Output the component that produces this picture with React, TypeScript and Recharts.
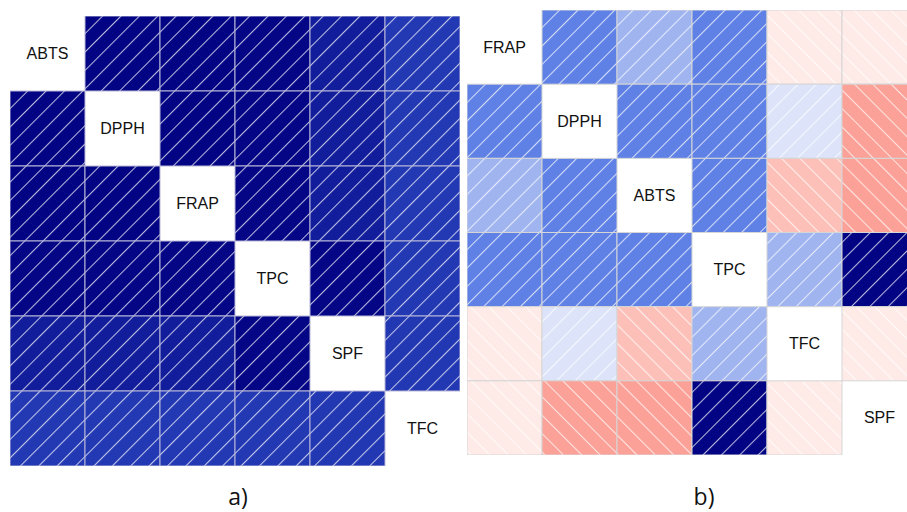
import React from "react";
import { ScatterChart, Scatter, XAxis, YAxis } from "recharts";

// panel a) variable order and correlations
const labelsA = ["ABTS", "DPPH", "FRAP", "TPC", "SPF", "TFC"];
const corrA = [
  [1, 0.98, 0.98, 0.97, 0.86, 0.73],
  [0.98, 1, 0.98, 0.97, 0.86, 0.73],
  [0.98, 0.98, 1, 0.97, 0.86, 0.73],
  [0.97, 0.97, 0.97, 1, 0.97, 0.73],
  [0.86, 0.86, 0.86, 0.97, 1, 0.74],
  [0.73, 0.73, 0.73, 0.73, 0.74, 1],
];

// panel b)
const labelsB = ["FRAP", "DPPH", "ABTS", "TPC", "TFC", "SPF"];
const corrB = [
  [1, 0.42, 0.25, 0.42, -0.08, -0.08],
  [0.42, 1, 0.42, 0.42, 0.09, -0.37],
  [0.25, 0.42, 1, 0.42, -0.25, -0.37],
  [0.42, 0.42, 0.42, 1, 0.25, 0.98],
  [-0.08, 0.09, -0.25, 0.25, 1, -0.08],
  [-0.08, -0.37, -0.37, 0.98, -0.08, 1],
];

const panelTags = ["a)", "b)"];

// red - salmon - white - royalblue - navy, like corrgram's default
const stops: [number, number[]][] = [
  [-1, [255, 0, 0]],
  [-0.5, [250, 128, 114]],
  [0, [255, 255, 255]],
  [0.5, [65, 105, 225]],
  [1, [0, 0, 128]],
];

function corrColor(r: number) {
  for (let k = 0; k < stops.length - 1; k++) {
    const [a, ca] = stops[k];
    const [b, cb] = stops[k + 1];
    if (r >= a && r <= b) {
      const t = (r - a) / (b - a);
      const c = ca.map((v, i) => Math.round(v + (cb[i] - v) * t));
      return `rgb(${c[0]},${c[1]},${c[2]})`;
    }
  }
  return "#fff";
}

type Cell = { x: number; y: number; r: number; label: string };

function Corrgram({ id, labels, matrix, width, height, grid }: { id: string; labels: string[]; matrix: number[][]; width: number; height: number; grid: string }) {
  const n = labels.length;
  const cells: Cell[] = [];
  matrix.forEach((row, i) =>
    row.forEach((r, j) => cells.push({ x: j + 0.5, y: i + 0.5, r, label: i === j ? labels[i] : "" }))
  );
  const cw = width / n;
  const ch = height / n;

  const shape = (p: any) => {
    const { cx, cy, payload } = p;
    if (payload.label) {
      return (
        <text x={cx} y={cy} textAnchor="middle" dominantBaseline="central" fontSize={16} fontFamily="'Liberation Sans', Arial, sans-serif" fill="#111">
          {payload.label}
        </text>
      );
    }
    const x = cx - cw / 2;
    const y = cy - ch / 2;
    return (
      <g>
        <rect x={x} y={y} width={cw} height={ch} fill={corrColor(payload.r)} />
        <rect x={x} y={y} width={cw} height={ch} fill={`url(#${id}-${payload.r >= 0 ? "pos" : "neg"})`} stroke={grid} strokeWidth={1} />
      </g>
    );
  };

  return (
    <ScatterChart width={width} height={height} margin={{ top: 0, right: 0, bottom: 0, left: 0 }}>
      <defs>
        <pattern id={`${id}-pos`} patternUnits="userSpaceOnUse" width={13} height={13} patternTransform="rotate(45)">
          <line x1={0.5} y1={0} x2={0.5} y2={13} stroke="#fff" strokeOpacity={0.72} strokeWidth={1.1} />
        </pattern>
        <pattern id={`${id}-neg`} patternUnits="userSpaceOnUse" width={13} height={13} patternTransform="rotate(-45)">
          <line x1={0.5} y1={0} x2={0.5} y2={13} stroke="#fff" strokeOpacity={0.72} strokeWidth={1.1} />
        </pattern>
      </defs>
      <XAxis type="number" dataKey="x" domain={[0, n]} hide />
      <YAxis type="number" dataKey="y" domain={[0, n]} reversed hide />
      <Scatter data={cells} shape={shape} isAnimationActive={false} />
    </ScatterChart>
  );
}

export default function App() {
  return (
    <div style={{ position: "relative", width: 907, height: 512, overflow: "hidden", background: "#fff" }}>
      <style>{`body{margin:0}`}</style>
      <div style={{ position: "absolute", left: 10, top: 16 }}>
        <Corrgram id="ca" labels={labelsA} matrix={corrA} width={450} height={450} grid="#b8b8d8" />
      </div>
      <div style={{ position: "absolute", left: 467, top: 10 }}>
        <Corrgram id="cb" labels={labelsB} matrix={corrB} width={450} height={445} grid="#d6d6d6" />
      </div>
      <svg width={907} height={512} style={{ position: "absolute", left: 0, top: 0, pointerEvents: "none" }}>
        <text x={238} y={505} textAnchor="middle" fontSize={23} fontFamily="'Open Sans', sans-serif" fill="#111">{panelTags[0]}</text>
        <text x={704} y={505} textAnchor="middle" fontSize={23} fontFamily="'Open Sans', sans-serif" fill="#111">{panelTags[1]}</text>
      </svg>
    </div>
  );
}
